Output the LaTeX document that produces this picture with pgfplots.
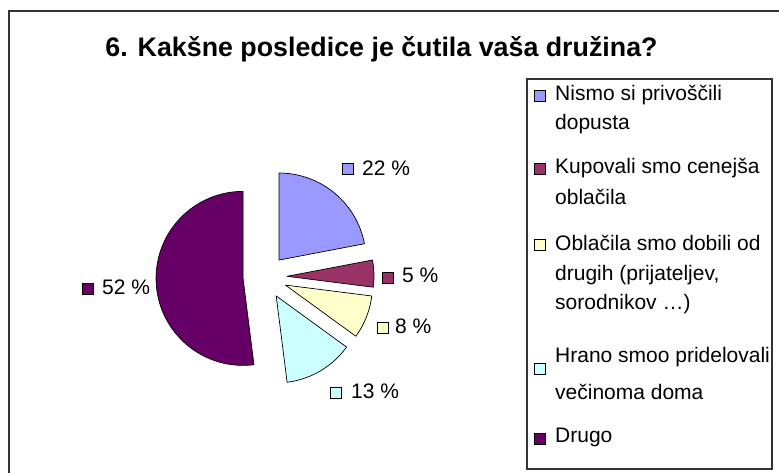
\documentclass[border=0pt]{standalone}
\usepackage{pgfplots}
\pgfplotsset{compat=1.18}
\usepackage{fontspec}
\setmainfont{Liberation Sans}
\definecolor{cA}{HTML}{9999FF}
\definecolor{cB}{HTML}{993366}
\definecolor{cC}{HTML}{FFFFCC}
\definecolor{cD}{HTML}{CCFFFF}
\definecolor{cE}{HTML}{660066}
\definecolor{framec}{HTML}{333333}

% #1 cumulative start (%), #2 value (%), #3 colour
\newcommand{\pieslice}[3]{%
  \pgfmathsetmacro{\aS}{90-3.6*#1}%
  \pgfmathsetmacro{\aE}{90-3.6*(#1+#2)}%
  \pgfmathsetmacro{\aM}{90-3.6*(#1+#2/2)}%
  \pgfmathsetmacro{\cx}{265+22*cos(\aM)}%
  \pgfmathsetmacro{\cy}{195+22*sin(\aM)}%
  \edef\doslice{\noexpand\addplot[fill=#3, draw=black, line width=0.7pt, line join=round, domain=\aE:\aS, samples=120, variable=\noexpand\t]
   ({\cx+87*cos(\noexpand\t)},{\cy+87*sin(\noexpand\t)}) -- (axis cs:\cx,\cy) -- cycle;}%
  \doslice
}
\newcommand{\keybox}[3]{%
  \addplot[only marks, mark=square*, mark size=5.5pt, mark options={solid, draw=black, fill=#3, line width=0.6pt}] coordinates {(#1,#2)};
}

\begin{document}
\begin{tikzpicture}
\begin{axis}[name=ax, scale only axis, width=779pt, height=472pt,
  xmin=0, xmax=779, ymin=0, ymax=472, hide axis, clip=false]

% frame and legend box (screen y converted to 472-y)
\draw[framec, line width=2pt] (axis cs:9,{472-11}) rectangle (axis cs:790,-10);
\draw[framec, line width=1.1pt] (axis cs:527,{472-79}) rectangle (axis cs:772,{472-469});

% pie: values 22, 5, 8, 13, 52 (%)
\pieslice{0}{22}{cA}
\pieslice{22}{5}{cB}
\pieslice{27}{8}{cC}
\pieslice{35}{13}{cD}
\pieslice{48}{52}{cE}

% data label keys
\keybox{347.5}{303.5}{cA}
\keybox{387.5}{194.5}{cB}
\keybox{382.5}{144.5}{cC}
\keybox{335.5}{79.5}{cD}
\keybox{87.5}{183}{cE}

\begin{scope}[every node/.style={inner sep=0pt, font=\fontsize{21}{25}\selectfont}]
\node[anchor=base west] at (axis cs:362,{472-176}) {22 \%};
\node[anchor=base west] at (axis cs:402,{472-282}) {5 \%};
\node[anchor=base west] at (axis cs:395,{472-333}) {8 \%};
\node[anchor=base west] at (axis cs:351,{472-398}) {13 \%};
\node[anchor=base west] at (axis cs:102,{472-294}) {52 \%};
\end{scope}

% legend keys
\keybox{539.5}{{472-95.5}}{cA}
\keybox{539.5}{{472-168.5}}{cB}
\keybox{539.5}{{472-244.5}}{cC}
\keybox{539.5}{{472-369}}{cD}
\keybox{539.5}{{472-439}}{cE}

\begin{scope}[every node/.style={inner sep=0pt, anchor=base west, font=\fontsize{21}{25}\selectfont}]
\node at (axis cs:555,{472-101}) {Nismo si privoščili};
\node at (axis cs:555,{472-130}) {dopusta};
\node at (axis cs:555,{472-174}) {Kupovali smo cenejša};
\node at (axis cs:555,{472-204}) {oblačila};
\node at (axis cs:555,{472-250}) {Oblačila smo dobili od};
\node at (axis cs:555,{472-280}) {drugih (prijateljev,};
\node at (axis cs:555,{472-309}) {sorodnikov …)};
\node at (axis cs:555,{472-362}) {Hrano smoo pridelovali};
\node at (axis cs:555,{472-399}) {večinoma doma};
\node at (axis cs:555,{472-442}) {Drugo};
\end{scope}

% title
\node[anchor=base, inner sep=0pt, font=\fontsize{26.8}{30}\selectfont\bfseries] at (axis cs:381.5,{472-57}) {6. Kakšne posledice je čutila vaša družina?};
\end{axis}
\pgfresetboundingbox
\path[use as bounding box] (ax.south west) rectangle (ax.north east);
\end{tikzpicture}
\end{document}
